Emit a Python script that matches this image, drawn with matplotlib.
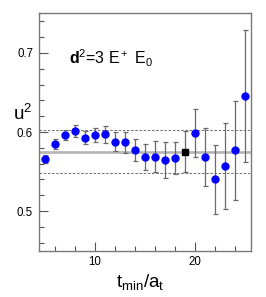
import matplotlib
matplotlib.use("Agg")
import matplotlib.pyplot as plt
from matplotlib.ticker import MultipleLocator

plt.rcParams["font.family"] = ["Liberation Sans", "DejaVu Sans"]
plt.rcParams["mathtext.fontset"] = "custom"
plt.rcParams["mathtext.rm"] = "Liberation Sans"
plt.rcParams["mathtext.it"] = "Liberation Sans"
plt.rcParams["mathtext.bf"] = "Liberation Sans:bold"

# fit values per t_min
tmin = [5, 6, 7, 8, 9, 10, 11, 12, 13, 14, 15, 16, 17, 18, 19, 20, 21, 22, 23, 24, 25]
u2 = [0.566, 0.585, 0.596, 0.601, 0.593, 0.596, 0.597, 0.588, 0.587, 0.577, 0.568,
      0.569, 0.565, 0.567, 0.575, 0.599, 0.568, 0.540, 0.557, 0.577, 0.646]
u2_err = [0.005, 0.0063, 0.0067, 0.0076, 0.0082, 0.0092, 0.011, 0.0118, 0.013, 0.0142, 0.0165,
          0.020, 0.0228, 0.0206, 0.026, 0.0304, 0.0367, 0.0437, 0.054, 0.0627, 0.0835]

chosen_t = 19
fit_value = 0.575
fit_err = 0.027

fig = plt.figure(figsize=(2.66, 2.97), dpi=100)
ax = fig.add_axes([0.145, 0.156, 0.797, 0.799])

ax.axhline(fit_value, color="#b4b4b4", lw=1.9, zorder=1)
ax.axhline(fit_value + fit_err, color="#555555", lw=0.6, ls=(0, (3, 2)), zorder=1)
ax.axhline(fit_value - fit_err, color="#555555", lw=0.6, ls=(0, (3, 2)), zorder=1)

for t, v, e in zip(tmin, u2, u2_err):
    is_chosen = t == chosen_t
    ax.errorbar(t, v, yerr=e, fmt="s" if is_chosen else "o",
                color="black" if is_chosen else "blue", ms=4.8 if is_chosen else 5.0,
                mec="black" if is_chosen else "blue",
                ecolor="#6a6a6a", elinewidth=0.9, capsize=1.8, capthick=0.9, zorder=3)

ax.set_xlim(4.4, 25.6)
ax.set_ylim(0.45, 0.75)
ax.xaxis.set_major_locator(MultipleLocator(10))
ax.xaxis.set_minor_locator(MultipleLocator(2))
ax.yaxis.set_major_locator(MultipleLocator(0.1))
ax.yaxis.set_minor_locator(MultipleLocator(0.02))
ax.tick_params(which="both", direction="in", top=False, right=False,
               color="#555555", labelsize=8.3, pad=4)
ax.tick_params(which="major", length=6.5, width=0.8)
ax.tick_params(which="minor", length=3.5, width=0.8)
ax.set_yticks([0.5, 0.6, 0.7])
ax.set_yticklabels(["0.5", "0.6", "0.7"])
for s in ax.spines.values():
    s.set_color("#7a7a7a")
    s.set_linewidth(1.0)

ax.text(7.4, 0.685, r"$\mathbf{d}^2$=3 E$^+$ E$_0$", fontsize=11.5)
fig.text(0.049, 0.596, r"u$^2$", fontsize=13.5)
fig.text(0.527, 0.035, r"t$_{\mathrm{min}}$/a$_{\mathrm{t}}$", fontsize=13.5, ha="center")

fig.savefig("out.png", dpi=100)
